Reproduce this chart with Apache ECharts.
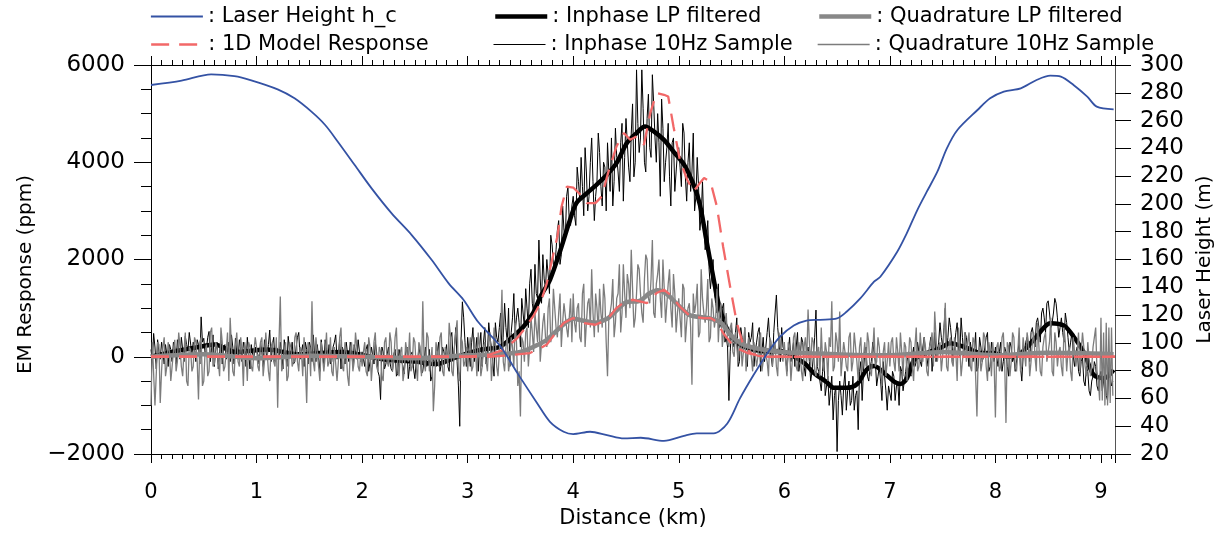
<!DOCTYPE html>
<html><head><meta charset="utf-8">
<script src="https://cdn.jsdelivr.net/npm/echarts@6/dist/echarts.min.js"></script>
<style>html,body{margin:0;padding:0;background:#fff}#c{width:1217px;height:534px}</style>
</head><body><div id="c"></div>
<script>
// ---------------- DATA ----------------
const X_MAX_KM = 9.133;
const SAMPLE_STEP_KM = 0.0125;

// Laser height h_c  [distance km, height m]  (right axis)
const laserHeight = [[0,285.6],[0.29,288.7],[0.57,293.3],[0.79,292],[0.95,289],[1.2,282.5],[1.36,276],[1.52,266.4],[1.65,256.8],[1.77,244.8],[1.93,228],[2.09,211.2],[2.28,193.2],[2.47,177.6],[2.66,159.6],[2.82,142.8],[2.96,131],[3.1,115],[3.31,97.6],[3.47,78.4],[3.66,56.4],[3.78,43.2],[3.91,36],[4.0,34.3],[4.16,36],[4.32,33.6],[4.48,31.2],[4.64,31.7],[4.86,29.5],[5.05,33.1],[5.17,34.8],[5.33,34.8],[5.46,42],[5.58,60],[5.71,77],[5.84,92.6],[5.96,104.4],[6.09,112.5],[6.21,116],[6.34,116.6],[6.5,117.6],[6.59,122.4],[6.72,132],[6.85,144],[6.91,147.6],[7.07,165.6],[7.16,178.8],[7.26,195.6],[7.35,208.8],[7.45,223.2],[7.54,240],[7.64,253.2],[7.83,267.6],[7.95,276],[8.08,280.8],[8.24,283.2],[8.39,289.2],[8.52,292.3],[8.62,291.6],[8.74,285.6],[8.87,277.2],[8.96,270],[9.12,268.1]];

// Inphase LP filtered [km, ppm]
const inphaseLP = [[0,0],[0.2,100],[0.45,200],[0.6,250],[0.8,100],[1.1,150],[1.4,50],[1.8,100],[2.2,-50],[2.5,-100],[2.7,-150],[2.9,0],[3.12,144],[3.3,200],[3.43,417],[3.53,623],[3.62,898],[3.69,1240],[3.78,1583],[3.88,2200],[3.96,2749],[4.03,3160],[4.13,3364],[4.22,3536],[4.32,3742],[4.41,3982],[4.51,4400],[4.6,4600],[4.68,4735],[4.76,4640],[4.86,4461],[4.95,4220],[5.05,3950],[5.14,3540],[5.2,3130],[5.27,2300],[5.33,1600],[5.38,1070],[5.46,560],[5.58,250],[5.7,150],[5.84,109],[5.96,120],[6.09,6],[6.2,-150],[6.28,-335],[6.4,-520],[6.47,-640],[6.59,-640],[6.69,-560],[6.78,-267],[6.85,-190],[6.97,-380],[7.04,-510],[7.1,-560],[7.16,-450],[7.23,-62],[7.35,76],[7.48,180],[7.57,280],[7.73,180],[7.86,76],[7.98,76],[8.11,6],[8.24,76],[8.39,417],[8.52,690],[8.65,640],[8.74,417],[8.84,80],[8.93,-370],[9.03,-440],[9.12,-270]];

// Quadrature LP filtered [km, ppm]
const quadratureLP = [[0,0],[0.5,50],[1.0,-30],[1.5,20],[2.0,0],[2.5,-30],[3.0,30],[3.3,50],[3.5,100],[3.6,180],[3.75,350],[3.9,650],[4.0,780],[4.1,740],[4.2,700],[4.32,780],[4.41,950],[4.5,1120],[4.63,1150],[4.72,1300],[4.8,1370],[4.88,1300],[5.01,1030],[5.11,850],[5.27,800],[5.4,700],[5.49,450],[5.61,250],[5.74,170],[5.9,120],[6.1,80],[6.5,50],[7.0,30],[7.5,100],[8.0,30],[8.5,80],[9.12,50]];

// 1D model response, inphase and quadrature [km, ppm]
const modelInphase = [[0,0],[3.0,0],[3.2,40],[3.35,150],[3.47,384],[3.53,550],[3.62,829],[3.69,1104],[3.75,1515],[3.85,2473],[3.89,3090],[3.94,3501],[4.0,3480],[4.07,3330],[4.13,3160],[4.21,3160],[4.27,3296],[4.33,3777],[4.41,4324],[4.48,4600],[4.54,4461],[4.6,4530],[4.67,4359],[4.73,5010],[4.79,5422],[4.86,5387],[4.9,5352],[4.95,4735],[5.01,4050],[5.08,3640],[5.14,3399],[5.2,3571],[5.24,3674],[5.3,3605],[5.36,3100],[5.42,2268],[5.49,1400],[5.55,700],[5.61,250],[5.68,76],[5.75,20],[5.85,0],[9.133,0]];
const modelQuadrature = [[0,0],[3.2,0],[3.4,30],[3.59,76],[3.69,178],[3.75,250],[3.83,480],[3.91,693],[4.0,795],[4.1,693],[4.21,658],[4.32,761],[4.41,1001],[4.5,1150],[4.57,1172],[4.7,1104],[4.79,1310],[4.86,1378],[4.92,1275],[5.01,1034],[5.11,829],[5.24,795],[5.3,795],[5.36,726],[5.42,487],[5.52,212],[5.65,76],[5.75,30],[5.85,0],[9.133,0]];

// Inphase 10 Hz samples (ppm): one list per km, one value every 0.0125 km
const inphaseSamples = [
 [150,-100,480,200,-250,350,100,-50,300,100,-150,250,50,-200,250,150,-100,300,200,-150,350,100,-50,400,150,-100,420,250,120,500,480,50,300,200,-100,350,250,-150,820,300,380,50,150,400,520,-100,200,450,-200,150,300,-250,100,350,-150,200,250,-50,50,300,-100,450,200,-150,380,100,-50,350,150,-100,300,150,-200,400,100,-250,250,50,0,200],
 [200,50,-150,300,100,-200,350,150,-50,250,550,-100,250,400,-100,200,150,-50,300,100,-250,350,100,-200,420,150,50,300,-150,-100,200,400,500,-50,100,250,-200,300,150,-150,300,200,-100,450,50,-100,250,0,-300,350,100,-200,350,150,0,250,-150,-100,200,300,450,-50,50,350,-250,200,100,-150,300,50,-100,300,150,-200,250,100,-50,350,100,-100],
 [100,-50,-200,150,250,-300,-100,200,50,-150,300,100,-300,-400,-880,200,100,-250,-150,50,200,-100,-250,-300,50,150,-400,-350,150,0,-100,-200,-350,100,200,-450,-200,50,100,-250,-450,-100,-150,200,50,-350,-300,-50,200,-200,-100,150,-500,-400,0,-150,-200,100,300,-300,-150,200,100,-50,250,-200,-300,400,500,-100,200,600,-100,-600,-1430,350,1130,800,300,-200],
 [400,100,-200,300,600,-100,100,400,-300,200,500,-200,300,600,-150,100,700,400,200,-100,-400,700,400,300,600,900,100,400,1100,600,300,1000,-200,500,800,1300,500,800,1000,700,200,1200,900,600,1400,1000,600,1500,1800,1100,900,1900,1300,1200,2400,1600,1100,2100,1600,1400,2000,1700,1300,2500,2300,1900,1800,2200,2600,2800,1900,2100,3100,2600,2400,3300,3500,2800,2700,3100],
 [3300,2900,2700,3900,3600,3200,4100,3500,2900,4300,3800,3000,3300,4000,4500,3600,2800,3300,3600,4600,4200,3500,3100,4000,3900,3000,4400,3800,3400,4500,3100,3600,4700,4100,3800,3400,4400,4800,3200,4100,4900,4400,3900,3600,4600,5200,3700,4000,5900,4800,4200,4500,5900,5100,4000,3800,4900,5400,4300,4100,5800,5200,4500,4000,5000,4400,3300,5300,4700,3600,4000,4300,4800,3700,3100,4400,4500,3400,3800,4200],
 [4300,3900,3500,4800,4600,3700,3200,4000,4400,3400,3800,4600,3000,3300,4100,3500,2600,2900,3600,2700,2200,2400,2800,1800,1400,1700,2000,1300,1100,900,1500,600,700,1000,1100,300,400,200,-900,100,600,300,200,500,800,-200,-100,600,400,100,600,-100,-200,500,300,400,700,-200,100,300,500,600,-300,100,400,-100,200,500,800,300,0,-200,500,900,1270,600,300,-100,600,200],
 [200,0,-300,100,400,-100,100,300,-200,200,500,-300,-100,400,300,-200,-400,100,200,-100,-500,-300,0,400,960,-200,-300,-500,-700,-300,100,-800,-600,-400,-1000,-700,-400,-1300,-800,-600,-1950,-900,-500,-800,-1200,-600,-300,-1100,-700,-500,-1000,-900,-400,-1100,-800,-700,-1500,-300,-100,-900,-300,100,200,-400,-500,-200,-100,300,300,-100,-600,-400,-200,-500,-900,-100,-400,-700,-1100,-600],
 [-600,-900,-300,-400,-900,-600,-500,-1000,-200,-300,-700,-500,-300,-100,100,-300,-400,0,200,-200,-100,300,300,-100,-200,200,400,100,0,-200,200,400,-300,100,500,-100,100,300,700,400,200,600,1000,100,400,800,600,300,-100,200,500,700,200,0,800,400,0,500,400,100,-200,300,300,-100,100,500,-300,-200,400,200,-100,0,200,400,500,-300,-200,300,100,-100],
 [200,0,-200,100,300,-300,-100,200,100,-200,-400,300,200,-100,0,-300,-300,100,300,-200,-500,0,100,300,400,200,-100,500,600,400,200,700,800,600,300,900,1000,800,500,1100,1150,900,600,700,900,1200,1100,800,400,600,800,500,300,900,700,400,100,300,500,0,-200,100,200,-300,-400,-100,0,-500,-600,-200,-300,-700,-800,-500,-400,-100,-200,-600,-700,-400,-300,-700,-500,-300,-800,-900,-200,-400,-600,-500]
];

// Quadrature 10 Hz samples (ppm): one list per km, one value every 0.0125 km
const quadratureSamples = [
 [-1000,300,300,-1000,-1000,300,250,-950,-300,200,400,-400,-200,300,100,-500,-500,100,350,-300,-100,500,200,-200,-400,100,500,-500,-600,200,150,-300,-200,400,300,-100,-880,300,400,-600,-500,100,250,-400,-300,500,600,-200,-150,300,200,-100,-400,600,300,-300,-200,100,500,-500,800,200,-300,-400,200,500,-100,-200,400,100,-600,300,100,-500,300,200,-200,-300,100,400],
 [200,-200,-300,300,400,-400,-100,500,100,-300,-500,200,300,-100,-200,400,-1050,300,1240,-300,-200,100,300,-500,-400,300,200,-200,-100,400,500,-100,-300,200,100,-400,400,-200,-950,300,200,-400,1140,-100,-300,400,100,-200,-500,300,300,-300,0,500,-200,-100,400,-300,-400,200,200,-500,-100,400,600,-200,-300,300,100,-400,-600,100,300,-300,-100,500,200,-200,-300,100],
 [-200,100,300,-300,-400,400,200,-500,-100,300,500,-200,-300,200,100,-400,-500,300,400,-100,-200,500,300,-300,-100,400,600,-200,-400,100,200,-500,-300,300,100,-100,500,-300,-200,400,300,-200,-500,300,200,-400,1140,-100,-300,500,400,-300,-100,200,-1120,-600,300,100,-200,400,500,-300,-400,200,100,-200,700,400,-300,-400,200,500,750,-300,-500,400,300,-200,-100,200],
 [-300,100,400,-300,-200,400,100,-400,500,200,-400,-200,200,300,-100,-300,300,500,-500,-100,600,300,-200,-400,100,500,1380,-100,-300,200,400,-300,-100,400,200,-200,700,300,-600,-300,-1230,400,300,-100,500,600,-200,200,800,500,100,900,600,300,1000,-100,300,700,900,400,200,1000,1200,300,500,1400,1000,600,400,900,1300,200,700,1100,1100,600,400,800,1200,300],
 [1300,700,500,1000,1100,400,300,1300,1500,200,700,1100,1200,600,1800,900,400,1300,1000,500,1400,900,600,1500,1200,300,-400,800,900,1100,1600,400,700,1200,1300,1900,500,900,1900,1300,800,1700,1500,1000,2200,1400,600,800,1300,1900,1800,1300,900,700,1600,2100,2000,1200,1100,1600,2400,900,800,1500,1700,2000,1200,800,2000,1400,700,1100,1500,1800,1000,600,1700,1300,500,900],
 [1200,800,400,1500,1400,300,700,1000,1100,600,-575,1300,900,1100,1500,400,500,1800,1200,900,700,1000,1600,300,400,1200,1000,600,800,1400,300,900,1100,200,500,700,900,300,200,600,700,100,0,500,500,-100,300,400,-200,100,600,-300,100,400,400,0,-300,300,300,-200,0,400,500,-300,-100,200,200,-100,-400,400,300,-200,100,300,-200,-400,500,200,0,-100],
 [300,-100,-400,300,200,-500,-100,400,500,-200,-300,300,100,-300,-500,200,400,-100,970,300,-200,400,300,-300,-400,100,200,-400,600,-100,-300,300,100,-500,400,200,1140,-300,-200,500,300,-100,930,-400,-400,300,100,-200,-300,400,500,-300,-100,500,200,-100,-500,200,400,-300,0,300,-200,500,300,-300,-400,100,600,-200,-100,400,200,-300,-600,100,300,-400,-100,300],
 [-200,300,400,-100,-300,400,100,-300,500,100,-400,300,200,-500,-100,400,300,-200,-500,200,600,-300,-200,500,100,-100,400,200,-300,-400,200,300,500,-200,930,400,-100,200,300,-300,0,500,1110,-200,-300,300,400,-100,-200,400,100,-500,600,200,-400,-100,200,500,-100,300,500,-200,-300,400,300,-400,-1230,100,200,-300,-100,500,400,-200,-500,300,100,-400,300,-100],
 [-1250,200,300,-300,-200,400,500,-100,-1360,300,200,-400,-100,500,400,-200,-300,100,600,-300,-200,400,100,-200,500,300,-400,-100,300,500,0,-300,700,200,-300,-400,200,400,500,-100,-100,300,800,-300,-400,500,300,-200,100,200,-200,-400,600,300,-300,100,200,-300,-500,400,400,-200,100,500,-300,-300,500,200,-200,-400,300,300,-400,-200,200,400,600,-300,-500,-900,800,-900,500,-1000,700,-1000,600,-950,600,-800]
];

// ---------------- CHART ----------------
function samplesToXY(segs){
  const out = [];
  segs.forEach((seg,k)=>seg.forEach((v,i)=>out.push([+(k + i*SAMPLE_STEP_KM).toFixed(4), v])));
  return out;
}
const FONT = 'DejaVu Sans';
const BLUE = '#3452a4', RED = '#f26868', GRAY = '#888888', GRAY_THIN = '#7c7c7c';
const xLab = v => (Math.abs(v - Math.round(v)) < 1e-6 ? String(Math.round(v)) : '');
const yLab = v => String(v).replace('-', '\u2212');

function xAx(pos, interval, len, extra){
  return Object.assign({
    type:'value', min:0, max:X_MAX_KM, interval:interval, position:pos,
    axisLine:{show:false, onZero:false},
    axisTick:{show:true, length:len, lineStyle:{color:'#000', width:1}},
    axisLabel:{show:false}, splitLine:{show:false}
  }, extra||{});
}

const legendCommon = {
  orient:'horizontal', padding:0, itemWidth:52, itemHeight:14, selectedMode:false,
  lineStyle:{width:'inherit'},
  itemStyle:{color:'rgba(0,0,0,0)', borderWidth:0, opacity:0},
  textStyle:{fontFamily:FONT, fontSize:21, color:'#000'},
  formatter: n => ': ' + n
};
const L = (name, left, top) => Object.assign({data:[name], left:left, top:top}, legendCommon);

const lineBase = {type:'line', symbol:'none', showSymbol:false, animation:false, sampling:null};
const DASH = [18,10];

const option = {
  animation:false,
  backgroundColor:'#fff',
  grid:{left:151, right:102, top:65, bottom:80, outerBoundsMode:'none'},
  legend:[
    L('Laser Height h_c',150,6), L('1D Model Response',150,34),
    L('Inphase LP filtered',493,6), L('Inphase 10Hz Sample',493,34),
    L('Quadrature LP filtered',817,6), L('Quadrature 10Hz Sample',817,34)
  ],
  xAxis:[
    xAx('bottom',1,9,{
      axisLine:{show:true,onZero:false,lineStyle:{color:'#000',width:1}},
      axisLabel:{show:true, formatter:xLab, fontFamily:FONT, fontSize:21, color:'#000', margin:28},
      name:'Distance (km)', nameLocation:'middle', nameGap:52,
      nameTextStyle:{fontFamily:FONT, fontSize:21, color:'#000'}
    }),
    xAx('bottom',0.1,5),
    xAx('top',1,9,{axisLine:{show:true,onZero:false,lineStyle:{color:'#000',width:1}}}),
    xAx('top',0.1,5)
  ],
  yAxis:[
    {type:'value', min:-2000, max:6000, interval:2000, position:'left',
     axisLine:{show:true,onZero:false,lineStyle:{color:'#000',width:1}},
     axisTick:{show:true,length:17,lineStyle:{color:'#000'}},
     minorTick:{show:true,splitNumber:4,length:10,lineStyle:{color:'#000'}},
     axisLabel:{formatter:yLab, fontFamily:FONT, fontSize:23, color:'#000', margin:26},
     splitLine:{show:false}, minorSplitLine:{show:false},
     name:'EM Response (ppm)', nameLocation:'middle', nameGap:104, nameRotate:90,
     nameTextStyle:{fontFamily:FONT, fontSize:20, color:'#000', padding:[0,30,0,0]}},
    {type:'value', min:20, max:300, interval:20, position:'right',
     axisLine:{show:true,onZero:false,lineStyle:{color:'#555',width:1}},
     axisTick:{show:true,length:16,lineStyle:{color:'#000'}},
     axisLabel:{fontFamily:FONT, fontSize:23, color:'#000', margin:25},
     splitLine:{show:false},
     name:'Laser Height (m)', nameLocation:'middle', nameGap:68, nameRotate:90,
     nameTextStyle:{fontFamily:FONT, fontSize:20, color:'#000'}}
  ],
  series:[
    Object.assign({}, lineBase, {name:'Inphase 10Hz Sample', z:2, data:samplesToXY(inphaseSamples),
      lineStyle:{color:'#000', width:1}, itemStyle:{color:'#000'}}),
    Object.assign({}, lineBase, {name:'Inphase LP filtered', z:2, data:inphaseLP, smooth:0.3,
      lineStyle:{color:'#000', width:4.5}, itemStyle:{color:'#000'}}),
    Object.assign({}, lineBase, {name:'Quadrature 10Hz Sample', z:2, data:samplesToXY(quadratureSamples),
      lineStyle:{color:GRAY_THIN, width:1.3}, itemStyle:{color:GRAY_THIN}}),
    Object.assign({}, lineBase, {name:'Quadrature LP filtered', z:2, data:quadratureLP, smooth:0.3,
      lineStyle:{color:GRAY, width:4.5}, itemStyle:{color:GRAY}}),
    Object.assign({}, lineBase, {name:'1D Model Response', z:3, data:modelInphase,
      lineStyle:{color:RED, width:2.3, type:DASH}, itemStyle:{color:RED}}),
    Object.assign({}, lineBase, {name:'1D Model Response', z:3, data:modelQuadrature,
      lineStyle:{color:RED, width:2.3, type:DASH}, itemStyle:{color:RED}}),
    Object.assign({}, lineBase, {name:'Laser Height h_c', z:4, yAxisIndex:1, data:laserHeight, smooth:0.3,
      lineStyle:{color:BLUE, width:1.8}, itemStyle:{color:BLUE}})
  ]
};
const chart = echarts.init(document.getElementById('c'), null, {renderer:'canvas'});
chart.setOption(option);
</script>
</body></html>
